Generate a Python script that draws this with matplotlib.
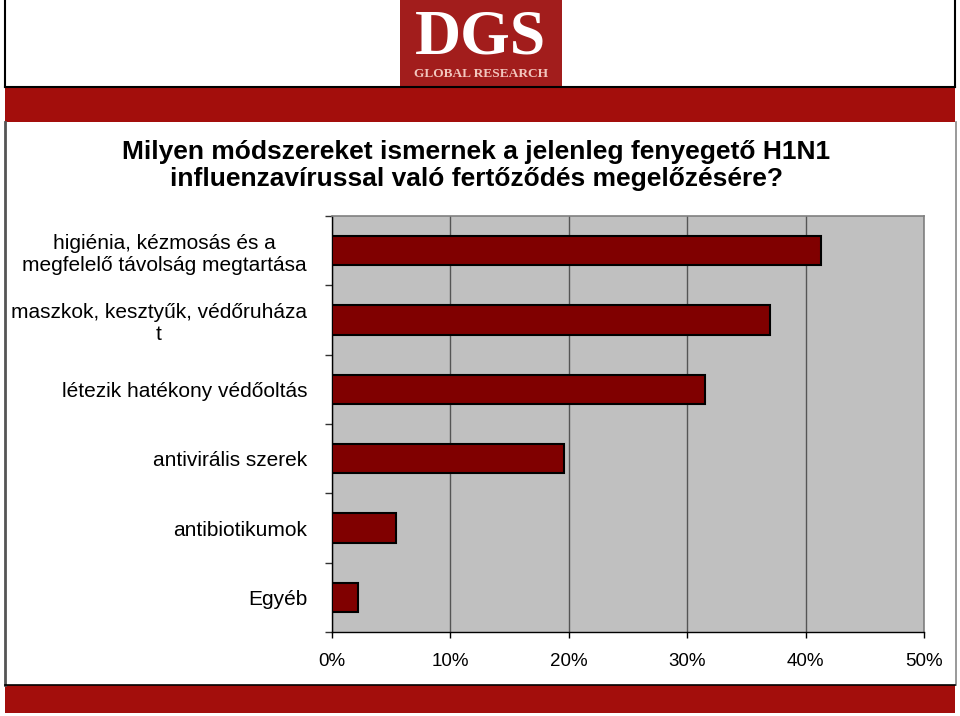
import matplotlib
matplotlib.use("Agg")
import matplotlib.pyplot as plt
from matplotlib.patches import Rectangle
from matplotlib.ticker import FixedLocator

plt.rcParams['font.family'] = ['Liberation Sans', 'DejaVu Sans']

categories = [
    "higiénia, kézmosás és a\nmegfelelő távolság megtartása",
    "maszkok, kesztyűk, védőruháza\nt",
    "létezik hatékony védőoltás",
    "antivirális szerek",
    "antibiotikumok",
    "Egyéb",
]
values = [41.3, 37.0, 31.5, 19.6, 5.4, 2.2]
x_ticks = [0, 10, 20, 30, 40, 50]
x_tick_labels = ["0%", "10%", "20%", "30%", "40%", "50%"]
title_lines = ["Milyen módszereket ismernek a jelenleg fenyegető H1N1",
               "influenzavírussal való fertőződés megelőzésére?"]

W, H = 960, 716
fig = plt.figure(figsize=(W / 100, H / 100), dpi=100)
fig.patch.set_facecolor("white")

# background / decoration layer in pixel coordinates
bg = fig.add_axes([0, 0, 1, 1], zorder=0)
bg.set_xlim(0, W)
bg.set_ylim(H, 0)
bg.axis("off")

red = "#A30E0C"
# header frame
bg.plot([5, 5], [0, 87], color="black", lw=1.5)
bg.plot([955, 955], [0, 87], color="black", lw=1.5)
bg.plot([5, 955], [87, 87], color="black", lw=1.5)
# logo
bg.add_patch(Rectangle((400, 0), 162, 86, facecolor="#A21D1C", edgecolor="none"))
bg.text(481, 54, "DGS", family="Liberation Serif", fontsize=46, fontweight="bold",
        color="white", ha="center", va="baseline")
bg.text(481, 77, "GLOBAL RESEARCH", family="Liberation Serif", fontsize=9.6,
        fontweight="bold", color="#F2C6BE", ha="center", va="baseline")
# top red band
bg.add_patch(Rectangle((5, 88), 950, 34, facecolor=red, edgecolor="none"))
# content side borders
bg.plot([5, 5], [122, 685], color="#555555", lw=2)
bg.plot([956, 956], [122, 685], color="#888888", lw=1.2)
# bottom red band
bg.add_patch(Rectangle((5, 685), 950, 28, facecolor=red, edgecolor="none"))
bg.plot([5, 955], [685, 685], color="black", lw=1.2)

# title
bg.text(476, 159, title_lines[0], fontsize=19, fontweight="bold",
        ha="center", va="baseline", color="black")
bg.text(476, 186, title_lines[1], fontsize=19, fontweight="bold",
        ha="center", va="baseline", color="black")

# chart
ax = fig.add_axes([332 / W, 84 / H, 592 / W, 416 / H], zorder=1)
ax.set_facecolor("#C0C0C0")
ypos = list(range(len(categories)))
ax.barh(ypos, values, height=0.42, color="#800000", edgecolor="black",
        linewidth=1.5, zorder=3)
ax.set_xlim(0, 50)
ax.set_ylim(len(categories) - 0.5, -0.5)

ax.set_xticks(x_ticks)
ax.set_xticklabels(x_tick_labels, fontsize=13.5)
ax.tick_params(axis="x", direction="out", length=4, width=1, pad=11, color="black")
ax.grid(axis="x", color="#555555", linewidth=1, zorder=1)
ax.set_axisbelow(True)

ax.set_yticks(ypos)
ax.set_yticklabels(categories, fontsize=15, multialignment="center")
ax.tick_params(axis="y", which="major", length=0, pad=18)
ax.yaxis.set_minor_locator(FixedLocator([i - 0.5 for i in range(len(categories) + 1)]))
ax.tick_params(axis="y", which="minor", length=5, width=1, color="#333333", direction="out")

for s in ["left", "bottom"]:
    ax.spines[s].set_color("black")
    ax.spines[s].set_linewidth(1)
for s in ["top", "right"]:
    ax.spines[s].set_color("#808080")
    ax.spines[s].set_linewidth(1.2)

fig.savefig("out.png", dpi=100)
